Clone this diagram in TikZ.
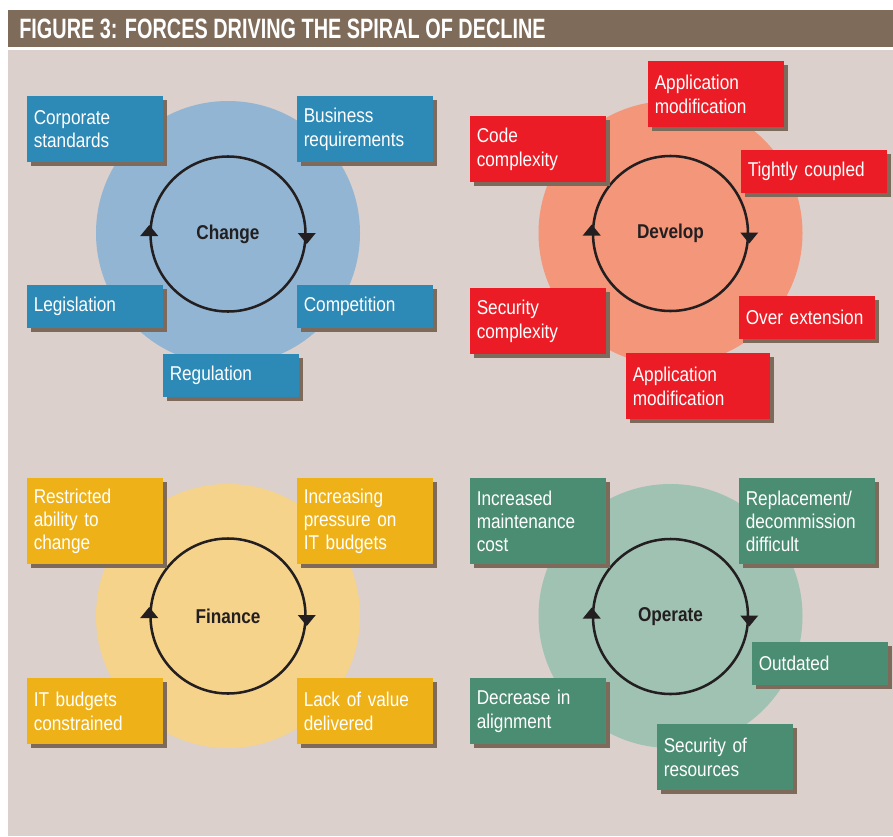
\documentclass[tikz,border=0pt]{standalone}
\usepackage{fontspec}
\setmainfont{Liberation Sans}[FakeStretch=0.86]
\newfontfamily\titlefont{Liberation Sans}[FakeStretch=0.71]
\usepackage{xcolor}
\usepackage{tikz}
\usetikzlibrary{calc, shadows}

\definecolor{shade}{HTML}{7D6A5A}
\definecolor{panel}{HTML}{DBD0CB}
\definecolor{bar}{HTML}{7F6B5A}
\definecolor{ink}{HTML}{231F20}
\definecolor{chdisc}{HTML}{92B5D3}
\definecolor{chbox}{HTML}{2D89B5}
\definecolor{dvdisc}{HTML}{F39679}
\definecolor{dvbox}{HTML}{EB1C25}
\definecolor{fndisc}{HTML}{F6D38B}
\definecolor{fnbox}{HTML}{EEB218}
\definecolor{opdisc}{HTML}{A0C2B3}
\definecolor{opbox}{HTML}{4A8D72}

\begin{document}
\begin{tikzpicture}[
      x=0.75pt, y=-0.75pt,
      tag/.style={rectangle, anchor=north west, inner xsep=4.875pt, inner ysep=0pt,
        text width=92.25pt, minimum height=49.5pt, align=left, text=white,
        font=\fontsize{15}{17.5}\selectfont,
        drop shadow={shadow xshift=3pt, shadow yshift=-3pt, fill=shade, opacity=1}},
      chtag/.style={tag, fill=chbox},
      dvtag/.style={tag, fill=dvbox},
      fntag/.style={tag, fill=fnbox},
      optag/.style={tag, fill=opbox},
      one/.style={minimum height=32.25pt},
      three/.style={minimum height=64.5pt},
      disc/.style={circle, inner sep=0pt, minimum size=198pt},
      ring/.style={circle, draw=ink, line width=1.9pt, inner sep=0pt, minimum size=116.25pt,
        text=ink, font=\bfseries\fontsize{15}{18}\selectfont}
    ]
      \useasboundingbox (0,0) rectangle (893,836);
      \fill[white] (0,0) rectangle (893,836);
      \fill[bar] (8,10) rectangle (893,47);
      \fill[panel] (8,50) rectangle (893,836);
      \node[anchor=west, inner sep=0pt, text=white, font=\titlefont\bfseries\fontsize{21}{21}\selectfont]
        (title) at (19,29) {FIGURE 3: FORCES DRIVING THE SPIRAL OF DECLINE};

      \node[disc, fill=chdisc] (chDisc) at (228,233) {};
      \node[disc, fill=dvdisc] (dvDisc) at (670.5,233) {};
      \node[disc, fill=fndisc] (fnDisc) at (228,616) {};
      \node[disc, fill=opdisc] (opDisc) at (670.5,616) {};

      \node[ring] (chRing) at (228,234) {Change};
      \node[ring] (dvRing) at (670.5,233.5) {Develop};
      \node[ring] (fnRing) at (228,616) {Finance};
      \node[ring] (opRing) at (670.5,616.5) {Operate};

      \fill[ink] ($(chRing.west)+(0,-9)$) -- ++(-9,11) -- ++(18,0) -- cycle;
      \fill[ink] ($(chRing.east)+(0,10)$) -- ++(-9,-11) -- ++(18,0) -- cycle;
      \fill[ink] ($(dvRing.west)+(0,-9)$) -- ++(-9,11) -- ++(18,0) -- cycle;
      \fill[ink] ($(dvRing.east)+(0,10)$) -- ++(-9,-11) -- ++(18,0) -- cycle;
      \fill[ink] ($(fnRing.west)+(0,-9)$) -- ++(-9,11) -- ++(18,0) -- cycle;
      \fill[ink] ($(fnRing.east)+(0,10)$) -- ++(-9,-11) -- ++(18,0) -- cycle;
      \fill[ink] ($(opRing.west)+(0,-9)$) -- ++(-9,11) -- ++(18,0) -- cycle;
      \fill[ink] ($(opRing.east)+(0,10)$) -- ++(-9,-11) -- ++(18,0) -- cycle;

      \node[chtag] (chCorp) at (27,96) {Corporate\\standards};
      \node[chtag] (chBus) at (297,96) {Business\\requirements};
      \node[chtag, one] (chLeg) at (27,285) {Legislation};
      \node[chtag, one] (chComp) at (297,285) {Competition};
      \node[chtag, one] (chReg) at (163,354) {Regulation};

      \node[dvtag] (dvAppTop) at (648,61) {Application\\modification};
      \node[dvtag] (dvCode) at (470,116) {Code\\complexity};
      \node[dvtag, one, text width=99.75pt] (dvTight) at (741,150) {Tightly coupled};
      \node[dvtag] (dvSec) at (470,288) {Security\\complexity};
      \node[dvtag, one] (dvOver) at (739,296) {Over extension};
      \node[dvtag, text width=98.25pt] (dvAppBot) at (626,353) {Application\\modification};

      \node[fntag, three] (fnRestr) at (27,478) {Restricted\\ability to\\change};
      \node[fntag, three] (fnPress) at (297,478) {Increasing\\pressure on\\IT budgets};
      \node[fntag] (fnConst) at (27,678) {IT budgets\\constrained};
      \node[fntag] (fnLack) at (297,678) {Lack of value\\delivered};

      \node[optag, three] (opMaint) at (470,478) {Increased\\maintenance\\cost};
      \node[optag, three] (opRepl) at (739,478) {Replacement/\\decommission\\difficult};
      \node[optag, one] (opOut) at (752,642) {Outdated};
      \node[optag] (opAlign) at (470,678) {Decrease in\\alignment};
      \node[optag] (opSec) at (657,724) {Security of\\resources};
    \end{tikzpicture}
\end{document}
